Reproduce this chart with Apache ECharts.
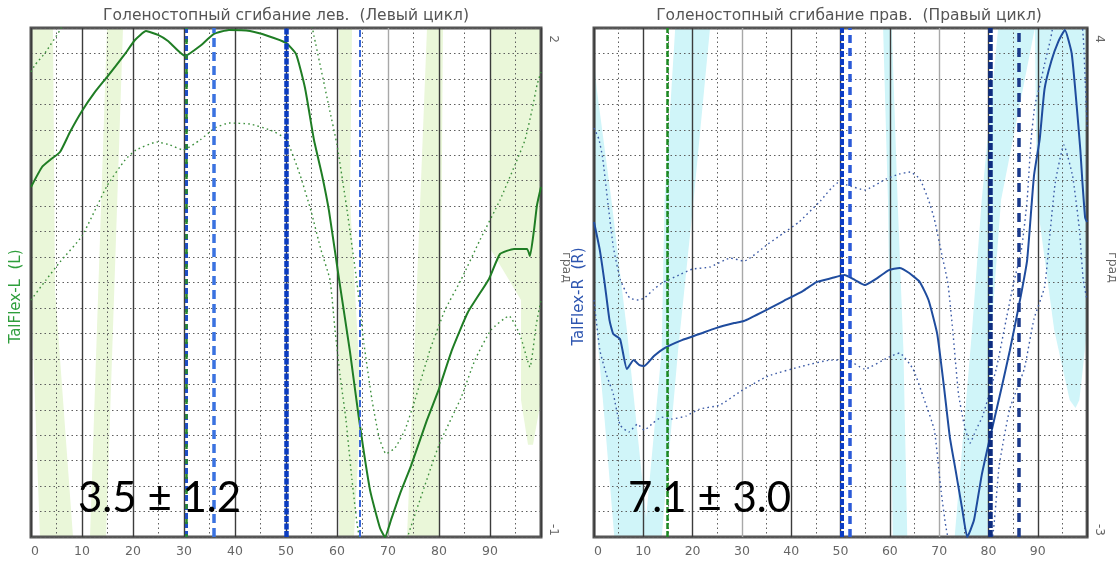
<!DOCTYPE html>
<html><head><meta charset="utf-8">
<script src="https://cdn.jsdelivr.net/npm/echarts@6/dist/echarts.min.js"></script>
<style>html,body{margin:0;padding:0;background:#fff}#c{width:1120px;height:564px}</style>
</head><body><div id="c"></div>
<script>
// ---------- texts ----------
const titles = ['Голеностопный сгибание лев.  (Левый цикл)', 'Голеностопный сгибание прав.  (Правый цикл)'];
const seriesNames = ['TalFlex-L  (L)', 'TalFlex-R  (R)'];
const unitName = 'град';
const annotations = ['3.5 ± 1.2', '7.1 ± 3.0'];
const xTickLabels = [0, 10, 20, 30, 40, 50, 60, 70, 80, 90];
const yRangeL = [-1, 2];
const yRangeR = [-3, 4];

// ---------- left chart (% cycle, value) ----------
const leftMean = [[0,1.063],[2.16,1.181],[3.73,1.222],[5.69,1.269],[7.65,1.387],[10,1.511],[12.55,1.623],[14.9,1.711],[18.43,1.847],[20.39,1.929],[22.55,1.982],[24.9,1.959],[26.86,1.923],[30.2,1.835],[33.14,1.894],[35.88,1.965],[38.82,1.988],[42.94,1.982],[46.47,1.953],[50,1.912],[51.96,1.847],[53.73,1.646],[55.49,1.34],[57.06,1.134],[58.43,0.922],[60.39,0.521],[62.55,0.091],[64.31,-0.304],[66.47,-0.722],[68.43,-0.947],[69.41,-1.0],[70.59,-0.9],[72.35,-0.746],[74.51,-0.581],[77.65,-0.31],[80,-0.127],[82.55,0.103],[85.69,0.326],[89.8,0.521],[91.96,0.668],[94.71,0.698],[97.25,0.698],[97.84,0.656],[98.63,0.81],[99.22,0.957],[100,1.063]];
const leftUpper = [[0,1.741],[0.78,1.782],[2.75,1.853],[5.69,1.988],[8.63,2.165],[17.45,2.46],[33.14,2.518],[50.78,2.342],[53.92,2.165],[55.49,1.953],[58.43,1.534],[60,1.311],[61.96,0.928],[63.92,0.497],[65.29,0.138],[66.86,-0.192],[68.24,-0.41],[69.61,-0.51],[71.37,-0.475],[73.33,-0.369],[75.29,-0.192],[78.24,0.103],[81.18,0.338],[84.31,0.515],[88.04,0.751],[91.96,0.986],[94.9,1.193],[96.86,1.34],[98.24,1.517],[99.22,1.664],[100,1.741]];
const leftLower = [[0,0.397],[2.94,0.515],[5.69,0.621],[10,0.774],[14.9,1.069],[18.43,1.222],[20.59,1.281],[24.71,1.328],[27.25,1.311],[29.8,1.281],[33.14,1.34],[36.08,1.411],[38.82,1.44],[42.94,1.434],[46.86,1.399],[50,1.346],[52.75,1.134],[54.9,0.922],[56.86,0.692],[58.63,0.515],[59.61,0.22],[60.59,-0.045],[61.76,-0.31],[62.94,-0.664],[64.12,-0.958],[68.43,-1.606],[73.33,-1.047],[76.27,-0.781],[80,-0.457],[84.31,-0.18],[87.06,0.044],[90.2,0.22],[93.73,0.303],[95.88,0.191],[97.84,0.002],[99.02,0.244],[100,0.397]];
const leftBands = [
  [[0,2],[4.31,2],[4.71,0.456],[8.24,-1],[1.76,-1],[0,0.456]],
  [[14.9,2],[18.04,2],[14.71,-1],[11.57,-1]],
  [[60.39,2],[62.94,2],[62.55,0.986],[64.71,-0.192],[63.33,-1],[60.39,-1]],
  [[77.65,2],[80.78,2],[80,-1],[73.73,-1]],
  [[90.2,2],[100,2],[100,-0.192],[98.43,-0.457],[97.45,-0.457],[96.08,-0.192],[96.08,0.397],[90.2,0.692]]
];
const leftEventX = [30.4, 30.4, 35.9, 50, 64.4];

// ---------- right chart ----------
const rightMean = [[0,1.332],[1.18,0.946],[2.16,0.492],[3.14,-0.017],[3.92,-0.209],[5.29,-0.278],[6.67,-0.69],[8.04,-0.567],[9.22,-0.636],[10.2,-0.649],[12.16,-0.512],[14.31,-0.402],[17.84,-0.292],[21.37,-0.209],[24.71,-0.127],[28.43,-0.058],[30.39,-0.03],[35.29,0.135],[38.43,0.245],[42.35,0.382],[45.1,0.506],[48.24,0.561],[50.78,0.602],[52.94,0.534],[54.9,0.465],[57.45,0.561],[59.8,0.671],[61.96,0.699],[63.92,0.63],[66.08,0.506],[67.84,0.259],[69.61,-0.209],[70.98,-0.938],[72.16,-1.626],[73.33,-2.08],[74.71,-2.63],[75.69,-3.0],[77.06,-2.767],[78.63,-2.149],[80.2,-1.667],[82.55,-0.979],[84.31,-0.443],[86.47,0.286],[87.84,0.809],[89.22,1.964],[90.39,2.473],[91.37,3.161],[92.75,3.546],[94.12,3.807],[95.49,3.972],[96.86,3.656],[97.84,2.968],[98.63,2.322],[99.02,1.909],[99.61,1.387],[100,1.332]];
const rightUpper = [[0,2.624],[0.98,2.473],[1.76,2.212],[2.75,1.634],[3.92,0.988],[5.29,0.547],[6.27,0.396],[7.25,0.286],[9.02,0.259],[10.2,0.286],[11.96,0.396],[13.73,0.492],[15.1,0.534],[17.65,0.616],[20,0.685],[23.53,0.713],[27.65,0.836],[30.39,0.795],[35.29,1.029],[38.43,1.18],[41.57,1.332],[45.88,1.62],[49.41,1.868],[51.37,1.84],[54.9,1.772],[59.22,1.923],[61.96,1.992],[64.12,2.019],[66.08,1.923],[67.84,1.634],[69.02,1.373],[70.39,0.933],[71.76,0.492],[72.75,-0.154],[73.92,-1.034],[75.1,-1.461],[76.27,-1.708],[77.45,-1.53],[78.82,-1.337],[81.57,-0.69],[83.73,0.039],[85.1,0.492],[86.67,0.946],[87.84,1.634],[88.63,2.459],[89.41,2.941],[90.39,3.202],[91.37,3.505],[92.55,3.835],[93.73,4.248],[96.27,4.798],[98.43,4.385],[99.22,3.876],[99.61,3.285],[100,2.624]];
const rightLower = [[0,0.259],[1.18,-0.429],[2.55,-0.773],[3.92,-1.034],[5.29,-1.461],[7.06,-1.557],[8.82,-1.447],[10.2,-1.53],[11.96,-1.433],[13.73,-1.351],[15.69,-1.378],[18.63,-1.337],[21.37,-1.241],[25.49,-1.186],[29.8,-0.993],[35.29,-0.787],[42.35,-0.649],[48.04,-0.567],[51.37,-0.567],[54.9,-0.691],[59.8,-0.525],[61.96,-0.47],[64.71,-0.69],[66.86,-1.089],[69.02,-1.53],[70.39,-2.369],[71.37,-2.864],[72.16,-3.111],[76.67,-3.868],[80.78,-3.015],[82.16,-2.025],[84.31,-1.241],[87.25,-0.69],[89.22,-0.003],[91.37,0.437],[92.35,1.084],[93.53,1.868],[95.29,2.391],[97.06,1.964],[98.43,1.235],[99.22,0.534],[100,0.259]];
const rightBands = [
  [[0,3.56],[0.59,3.147],[3.53,1.634],[6.67,-0.154],[10.98,-3],[4.12,-3],[2.16,-1.392],[0,0.259]],
  [[16.47,4],[23.53,4],[20.2,1.634],[17.06,-0.429],[13.73,-3],[10.2,-3],[13.73,-0.429],[14.31,1.634]],
  [[58.63,4],[60.39,4],[61.57,1.634],[62.75,-0.429],[63.53,-3],[60.59,-3],[59.61,1.634]],
  [[81.96,4],[89.41,4],[82.55,1.634],[80.59,-0.154],[79.8,-3],[73.14,-3],[76.67,-0.154],[78.63,1.634]],
  [[89.41,4],[100,4],[100,-0.154],[98.43,-1.117],[97.65,-1.227],[96.47,-1.117],[93.33,-0.154],[89.8,1.634]]
];
const rightEventX = [14.9, 50.3, 51.8, 80.3, 86.2];

// ---------- styles ----------
const leftEventStyle = [
  {color:'#1f4fc4', width:3, type:[6,3]},
  {color:'#2a8a2a', width:2.5, type:[5,10], dashOffset:2},
  {color:'#3a72e0', width:3.5, type:[9,5]},
  {color:'#0b3cc0', width:4.5, type:[6,1.5]},
  {color:'#3a68d8', width:2, type:[7,3]}
];
const rightEventStyle = [
  {color:'#1c8a22', width:2.5, type:[6,2]},
  {color:'#0b3cc4', width:4, type:[6,2]},
  {color:'#2a5ad8', width:3.5, type:[8,5]},
  {color:'#0d2c80', width:4.5, type:[7,2]},
  {color:'#1a3a8c', width:3.5, type:[9,6]}
];
const GREEN = '#1f7d24', GREEN_DOT = '#3c8f3c', BLUE = '#1f4c9e', BLUE_DOT = '#3b5aa6';
const GREEN_FILL = '#eaf7d9', CYAN_FILL = '#d0f5f9';
const gridDot = {color:'#5e5e5e', width:1, type:[1.5,3]};
const labelFont = 'DejaVu Sans';

function bandRenderer(bands, fill) {
  return function (params, api) {
    const pts = bands[params.dataIndex].map(p => api.coord(p));
    return {type:'polygon', shape:{points:pts}, style:{fill:fill}, silent:true};
  };
}
function xAxisFor(gridIndex, lightIdx) {
  const cols = [];
  for (let i = 0; i <= 10; i++) cols.push(lightIdx.indexOf(i) >= 0 ? '#a8a8a8' : '#3c3c3c');
  return {
    type:'value', gridIndex, min:0, max:100, interval:10, position:'bottom',
    axisLine:{show:false}, axisTick:{show:false},
    axisLabel:{color:'#666', fontFamily:labelFont, fontSize:12.5, margin:8, alignMinLabel:'left',
      formatter: v => xTickLabels.indexOf(v) >= 0 ? String(v) : ''},
    splitLine:{show:true, lineStyle:{color:cols, width:1.4}},
    minorTick:{show:false, splitNumber:2},
    minorSplitLine:{show:true, lineStyle:gridDot}
  };
}
function dataYAxis(gridIndex, range) {
  return {
    type:'value', gridIndex, min:range[0], max:range[1], interval:1, position:'right',
    axisLine:{show:false}, axisTick:{show:false}, splitLine:{show:false},
    axisLabel:{rotate:-90, margin:6, color:'#666', fontFamily:labelFont, fontSize:12,
      formatter: v => v === range[1] ? '{mx|' + v + '}' : (v === range[0] ? '{mn|' + v + '}' : ''),
      rich:{mx:{padding:[0,0,0,22], color:'#666', fontFamily:labelFont, fontSize:12},
            mn:{padding:[0,14,0,0], color:'#666', fontFamily:labelFont, fontSize:12}}},
    name:unitName, nameLocation:'middle', nameRotate:-90, nameGap:12,
    nameTextStyle:{color:'#666', fontFamily:labelFont, fontSize:12.5, padding:[0,30,0,0]}
  };
}
function gridYAxis(gridIndex, name, color) {
  return {
    type:'value', gridIndex, min:0, max:20, interval:1, position:'left',
    axisLine:{show:false}, axisTick:{show:false}, axisLabel:{show:false},
    splitLine:{show:true, lineStyle:gridDot},
    name:name, nameLocation:'middle', nameRotate:90, nameGap:7,
    nameTextStyle:{color:color, fontFamily:labelFont, fontSize:15, padding:[0,28,0,0]}
  };
}
function curve(data, xi, yi, color, width, dotted) {
  return {type:'line', data, xAxisIndex:xi, yAxisIndex:yi, showSymbol:false, symbol:'none',
    smooth:0.15, clip:true, silent:true, z: dotted ? 2 : 3,
    lineStyle:{color, width, type: dotted ? [1.6,3.2] : 'solid'}};
}
function events(xs, styles, xi, yi) {
  return {type:'line', data:[], xAxisIndex:xi, yAxisIndex:yi, z:5, silent:true,
    markLine:{silent:true, symbol:['none','none'], label:{show:false}, animation:false,
      data: xs.map((x, i) => ({xAxis:x, lineStyle:styles[i]}))}};
}

const chart = echarts.init(document.getElementById('c'), null, {renderer:'canvas'});
chart.setOption({
  animation:false,
  backgroundColor:'#fff',
  grid:[
    {left:31, top:28, width:510, height:509, show:true, borderColor:'#555', borderWidth:3},
    {left:594, top:28, width:510, height:509, show:true, borderColor:'#555', borderWidth:3}
  ],
  xAxis:[xAxisFor(0, [7]), xAxisFor(1, [3, 7])],
  yAxis:[dataYAxis(0, yRangeL), gridYAxis(0, seriesNames[0], '#2f9e3c'),
         dataYAxis(1, yRangeR), gridYAxis(1, seriesNames[1], '#2d55b0')],
  graphic:[
    {type:'text', x:286, y:16, style:{text:titles[0], align:'center', verticalAlign:'middle', fill:'#555', fontFamily:labelFont, fontSize:15.5}},
    {type:'text', x:849, y:16, style:{text:titles[1], align:'center', verticalAlign:'middle', fill:'#555', fontFamily:labelFont, fontSize:15.5}},
    {type:'text', x:78, y:498, z:10, style:{text:annotations[0], verticalAlign:'middle', fill:'#000', fontFamily:'Lato', fontSize:42}},
    {type:'text', x:628, y:498, z:10, style:{text:annotations[1], verticalAlign:'middle', fill:'#000', fontFamily:'Lato', fontSize:42}}
  ],
  series:[
    {type:'custom', xAxisIndex:0, yAxisIndex:0, z:-1, silent:true, renderItem:bandRenderer(leftBands, GREEN_FILL), data:leftBands.map(b => b[0])},
    {type:'custom', xAxisIndex:1, yAxisIndex:2, z:-1, silent:true, renderItem:bandRenderer(rightBands, CYAN_FILL), data:rightBands.map(b => b[0])},
    curve(leftUpper, 0, 0, GREEN_DOT, 1.4, true),
    curve(leftLower, 0, 0, GREEN_DOT, 1.4, true),
    curve(leftMean, 0, 0, GREEN, 2, false),
    curve(rightUpper, 1, 2, BLUE_DOT, 1.4, true),
    curve(rightLower, 1, 2, BLUE_DOT, 1.4, true),
    curve(rightMean, 1, 2, BLUE, 2, false),
    events(leftEventX, leftEventStyle, 0, 0),
    events(rightEventX, rightEventStyle, 1, 2)
  ]
});
</script></body></html>
